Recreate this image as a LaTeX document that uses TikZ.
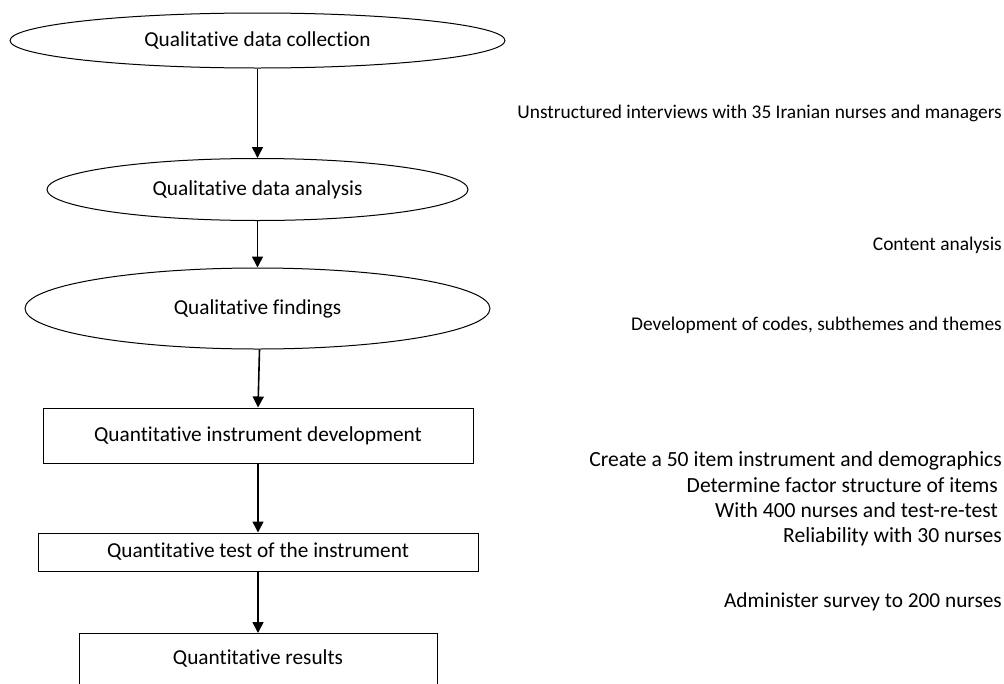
\documentclass[tikz,border=0pt]{standalone}
\usepackage{fontspec}
\setmainfont{Carlito}[Ligatures={NoCommon}]
\usetikzlibrary{shapes.geometric,arrows.meta}
\begin{document}
\begin{tikzpicture}[x=1pt,y=-1pt,
  every node/.style={font=\fontsize{21.3}{25.3}\selectfont},
  oval/.style={draw,ellipse,line width=1pt,inner sep=0pt},
  stepbox/.style={draw,rectangle,line width=1pt,inner sep=0pt},
  note/.style={anchor=east,align=right,inner sep=0pt,font=\fontsize{19.4}{25.3}\selectfont},
  link/.style={line width=1.6pt,-{Triangle[width=11pt,length=11pt]}}]
\useasboundingbox (0,0) rectangle (1004,683);
\clip (0,0) rectangle (1004,683);
\node[oval,minimum width=495pt,minimum height=55pt] (c1) at (257.5,40.5) {Qualitative data collection};
\node[oval,minimum width=421pt,minimum height=62pt] (c2) at (257.5,189.5) {Qualitative data analysis};
\node[oval,minimum width=465pt,minimum height=81pt] (c3) at (257.5,308.5) {Qualitative findings};
\node[stepbox,minimum width=430pt,minimum height=55pt] (b1) at (258,435.5) {Quantitative instrument development};
\node[stepbox,minimum width=440pt,minimum height=38pt] (b2) at (258,552) {Quantitative test of the instrument};
\node[stepbox,minimum width=358pt,minimum height=80pt,anchor=north] (b3) at (258,633) {};
\node at (258,659) {Quantitative results};
\coordinate (b3top) at (258,633);
\draw[link] (c1.south) -- (c2.north);
\draw[link] (c2.south) -- (c3.north);
\draw[link] (c3.south) ++(2,0) -- (b1.north);
\draw[link] (b1.south) -- (b2.north);
\draw[link] (b2.south) -- (b3top);
\node[note] (t1) at (1002,113) {Unstructured interviews with 35 Iranian nurses and managers};
\node[note] (t2) at (1002,245) {Content analysis};
\node[note] (t3) at (1002,325) {Development of codes, subthemes and themes};
\node[note,font=\fontsize{21.6}{25.3}\selectfont] (t4) at (1002,499) {Create a 50 item instrument and demographics\\
Determine factor structure of items\kern4pt\\
With 400 nurses and test-re-test\kern4pt\\
Reliability with 30 nurses};
\node[note,font=\fontsize{21.3}{25.3}\selectfont] (t5) at (1002,602) {Administer survey to 200 nurses};
\end{tikzpicture}
\end{document}
